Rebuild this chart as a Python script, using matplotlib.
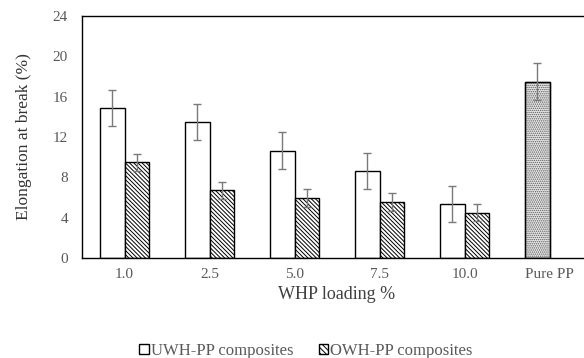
import numpy as np
import matplotlib
matplotlib.use("Agg")
import matplotlib.pyplot as plt
from matplotlib.patches import Patch

plt.rcParams['font.family'] = ['Liberation Serif', 'DejaVu Serif']
plt.rcParams['hatch.linewidth'] = 0.7

# data
groups = ['1.0', '2.5', '5.0', '7.5', '10.0', 'Pure PP']
uwh = [14.9, 13.5, 10.65, 8.6, 5.35]
uwh_err = [1.8, 1.8, 1.8, 1.8, 1.8]
owh = [9.5, 6.7, 5.95, 5.55, 4.5]
owh_err = [0.85, 0.85, 0.85, 0.85, 0.85]
pure_pp = 17.5
pure_pp_err = 1.8

grey = '#595959'
fig = plt.figure(figsize=(5.84, 3.58), dpi=100)
ax = fig.add_axes([82/584, 100/358, 510/584, 242/358])

x = np.arange(len(groups))
w = 0.294
ekw = dict(ecolor='#7a7a7a', elinewidth=1.0, capsize=2.8, capthick=1.0)

ax.bar(x[:5] - w/2, uwh, w, yerr=uwh_err, color='white', edgecolor='black',
       linewidth=1.0, error_kw=ekw, zorder=2)
ax.bar(x[:5] + w/2, owh, w, yerr=owh_err, color='white', edgecolor='black',
       hatch='\\' * 8, linewidth=1.0, error_kw=ekw, zorder=2)
ax.bar(x[5] - w/2, pure_pp, w, yerr=pure_pp_err, color='#e8e8e8', edgecolor='#5a5a5a',
       hatch='.' * 8, linewidth=1.0, error_kw=ekw, zorder=2)
# dark outline for the Pure PP bar
ax.bar(x[5] - w/2, pure_pp, w, color='none', edgecolor='black', linewidth=1.0, zorder=2)

ax.set_xlim(-0.5, 5.5)
ax.set_ylim(0, 24)
ax.set_yticks(np.arange(0, 25, 4))
ax.set_xticks(x)
ax.set_xticklabels(groups)
ax.tick_params(length=0, labelsize=11, colors=grey, pad=7)
ax.tick_params(axis='y', pad=10)
for s in ['left', 'bottom', 'top']:
    ax.spines[s].set_linewidth(1.0)
ax.spines['right'].set_visible(False)

ax.set_ylabel('Elongation at break (%)', fontsize=12.5, color='#333333', labelpad=15)
ax.set_xlabel('WHP loading %', fontsize=13, color='#404040', labelpad=4)

handles = [Patch(facecolor='white', edgecolor='black', label='UWH-PP composites'),
           Patch(facecolor='white', edgecolor='black', hatch='\\' * 6, label='OWH-PP composites')]
fig.legend(handles=handles, loc='center', bbox_to_anchor=(306/584, 1 - 351/358), ncol=2,
           frameon=False, fontsize=12, labelcolor=grey, handlelength=0.55, handleheight=0.55,
           handletextpad=0.15, columnspacing=1.5)

fig.savefig('out.png', dpi=100)
